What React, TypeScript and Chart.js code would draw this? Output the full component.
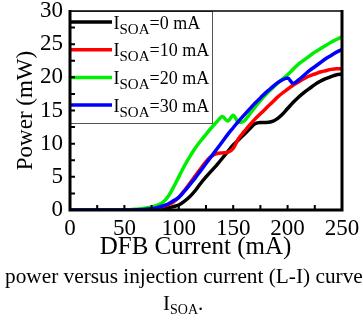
import React, { useEffect, useRef } from "react";
import { Chart, registerables } from "chart.js";

Chart.register(...registerables);

const current = [
  0, 5, 10, 15, 20, 25, 30, 35, 40, 45, 50, 55, 60, 65, 70, 75, 80, 85, 90, 95,
  100, 105, 110, 115, 120, 125, 130, 135, 140, 145, 150, 155, 160, 165, 170, 175,
  180, 185, 190, 195, 200, 205, 210, 215, 220, 225, 230, 235, 240, 245, 250,
];

const soa0 = [
  0, 0, 0, 0, 0, 0, 0, 0, 0, 0, 0, 0, 0, 0, 0,
  0.03, 0.08, 0.15, 0.3, 0.5, 0.75, 1.3, 2.0, 2.9, 4.0, 5.0, 5.9, 6.8, 7.8, 8.8,
  9.8, 10.6, 11.4, 12.2, 13.0, 13.2, 13.2, 13.3, 13.7, 14.4, 15.3, 16.2, 17.0,
  17.7, 18.3, 18.9, 19.4, 19.8, 20.1, 20.4, 20.5,
];

const soa10 = [
  0, 0, 0, 0, 0, 0, 0, 0, 0, 0, 0, 0, 0,
  0.03, 0.08, 0.15, 0.3, 0.5, 0.8, 1.2, 1.9, 2.9, 4.0, 5.1, 6.2, 7.3, 8.1, 8.5,
  8.6, 8.7, 9.3, 10.8, 11.8, 12.8, 13.7, 14.5, 15.3, 16.1, 16.9, 17.6, 18.2,
  18.8, 19.3, 19.8, 20.2, 20.5, 20.8, 21.0, 21.2, 21.3, 21.3,
];

const soa20 = [
  0, 0, 0, 0, 0, 0, 0, 0, 0, 0, 0,
  0.05, 0.1, 0.2, 0.3, 0.45, 0.7, 1.1, 2.0, 3.4, 5.0, 6.6, 8.0, 9.3, 10.4, 11.4,
  12.4, 13.3, 14.1, 13.4, 14.3, 13.2, 13.4, 14.4, 15.5, 16.5, 17.4, 18.2, 19.0,
  19.7, 20.4, 21.2, 22.0, 22.6, 23.2, 23.8, 24.3, 24.8, 25.3, 25.7, 26.1,
];

const soa30 = [
  0, 0, 0, 0, 0, 0, 0, 0, 0, 0, 0, 0,
  0.02, 0.05, 0.1, 0.2, 0.35, 0.6, 0.9, 1.4, 1.9, 2.8, 3.8, 4.8, 5.9, 7.0, 8.1,
  9.2, 10.3, 11.4, 12.4, 13.4, 14.3, 15.2, 16.1, 16.9, 17.7, 18.4, 19.1, 19.6,
  19.9, 19.1, 19.6, 20.3, 21.0, 21.6, 22.2, 22.8, 23.3, 23.8, 24.2,
];

const seriesValues = [soa0, soa10, soa20, soa30];
const seriesColors = ["#000000", "#ff0000", "#00ee00", "#0000ff"];
const legendPrefix = "I";
const legendSub = "SOA";
const legendSuffix = ["=0 mA", "=10 mA", "=20 mA", "=30 mA"];

const xTickLabels = [0, 50, 100, 150, 200, 250];
const yTickLabels = [0, 5, 10, 15, 20, 25, 30];
const xTickMarks = [25, 50, 75, 100, 125, 150, 175, 200, 225];
const yTickMarks = [2.5, 5, 7.5, 10, 12.5, 15, 17.5, 20, 22.5, 25, 27.5];

const xTitle = "DFB Current (mA)";
const yTitle = "Power (mW)";
const captionLine1 = "power versus injection current (L-I) curve";

const SERIF = '"Liberation Serif", "Times New Roman", serif';

const decorPlugin = {
  id: "decor",
  afterDatasetsDraw(chart: any) {
    const { ctx, chartArea: a, scales } = chart;
    const xs = scales.x;
    const ys = scales.y;
    ctx.save();

    // legend box
    const lx = a.left;
    const ly = a.top;
    const lw = 142;
    const lh = 112;
    ctx.fillStyle = "#ffffff";
    ctx.fillRect(lx, ly, lw, lh);
    ctx.strokeStyle = "#555555";
    ctx.lineWidth = 1;
    ctx.strokeRect(lx + 0.5, ly + 0.5, lw, lh);

    for (let i = 0; i < seriesColors.length; i++) {
      const yy = ly + 11 + i * 27.7;
      ctx.strokeStyle = seriesColors[i];
      ctx.lineWidth = 3.5;
      ctx.beginPath();
      ctx.moveTo(lx, yy);
      ctx.lineTo(lx + 42, yy);
      ctx.stroke();
      ctx.fillStyle = "#000000";
      ctx.textBaseline = "alphabetic";
      ctx.textAlign = "left";
      let tx = lx + 43.5;
      ctx.font = `18px ${SERIF}`;
      ctx.fillText(legendPrefix, tx, yy + 6.5);
      tx += ctx.measureText(legendPrefix).width;
      ctx.font = `15px ${SERIF}`;
      ctx.fillText(legendSub, tx, yy + 11.5);
      tx += ctx.measureText(legendSub).width;
      ctx.font = `18px ${SERIF}`;
      ctx.fillText(legendSuffix[i], tx, yy + 6.5);
    }

    // tick marks (inward)
    ctx.strokeStyle = "#000000";
    ctx.lineWidth = 2;
    ctx.beginPath();
    xTickMarks.forEach((v) => {
      const px = xs.getPixelForValue(v);
      ctx.moveTo(px, a.bottom);
      ctx.lineTo(px, a.bottom - 5);
    });
    yTickMarks.forEach((v) => {
      const py = ys.getPixelForValue(v);
      ctx.moveTo(a.left, py);
      ctx.lineTo(a.left + 5, py);
    });
    ctx.stroke();

    // frame
    ctx.lineWidth = 3;
    ctx.beginPath();
    ctx.moveTo(a.left, a.top - 1);
    ctx.lineTo(a.left, a.bottom + 1.5);
    ctx.moveTo(a.left - 1.5, a.bottom);
    ctx.lineTo(a.right + 1.5, a.bottom);
    ctx.moveTo(a.right, a.bottom);
    ctx.lineTo(a.right, a.top - 1);
    ctx.stroke();
    ctx.lineWidth = 1.5;
    ctx.beginPath();
    ctx.moveTo(a.left, a.top);
    ctx.lineTo(a.right, a.top);
    ctx.stroke();

    // x-axis title
    ctx.fillStyle = "#000000";
    ctx.font = `25px ${SERIF}`;
    ctx.textAlign = "center";
    ctx.textBaseline = "alphabetic";
    ctx.fillText(xTitle, a.left + 125.5, a.bottom + 43.5);
    ctx.restore();
  },
};

export default function App() {
  const canvasRef = useRef<HTMLCanvasElement | null>(null);

  useEffect(() => {
    const canvas = canvasRef.current;
    if (!canvas) return;
    const chart = new Chart(canvas, {
      type: "line",
      data: {
        labels: current,
        datasets: seriesValues.map((vals, i) => ({
          label: legendPrefix + legendSub + legendSuffix[i],
          data: vals.map((v, k) => ({ x: current[k], y: v })),
          borderColor: seriesColors[i],
          backgroundColor: seriesColors[i],
          borderWidth: 3.5,
          pointRadius: 0,
          fill: false,
          cubicInterpolationMode: "monotone" as const,
          order: seriesColors.length - i,
        })),
      },
      options: {
        responsive: false,
        animation: false,
        devicePixelRatio: 1,
        layout: { padding: { top: 11, right: 21, left: 0, bottom: 0 } },
        plugins: {
          legend: { display: false },
          tooltip: { enabled: false },
        },
        scales: {
          x: {
            type: "linear",
            min: 0,
            max: 250,
            afterBuildTicks: (s: any) => {
              s.ticks = xTickLabels.map((v) => ({ value: v }));
            },
            afterFit: (s: any) => {
              s.height = 55;
              s.paddingLeft = 0;
              s.paddingRight = 0;
            },
            grid: { display: false, drawTicks: false },
            border: { display: false },
            ticks: {
              color: "#000",
              font: { family: SERIF, size: 23 },
              padding: 5,
              maxRotation: 0,
              autoSkip: false,
            },
            title: { display: false },
          },
          y: {
            type: "linear",
            min: 0,
            max: 30,
            afterBuildTicks: (s: any) => {
              s.ticks = yTickLabels.map((v) => ({ value: v }));
            },
            afterFit: (s: any) => {
              s.width = 70;
              s.paddingTop = 0;
              s.paddingBottom = 0;
            },
            grid: { display: false, drawTicks: false },
            border: { display: false },
            ticks: {
              color: "#000",
              font: { family: SERIF, size: 23 },
              padding: 7,
              autoSkip: false,
            },
            title: {
              display: true,
              text: yTitle,
              color: "#000",
              font: { family: SERIF, size: 23 },
              padding: { top: 12, bottom: 0 },
            },
          },
        },
      },
      plugins: [decorPlugin],
    });
    return () => chart.destroy();
  }, []);

  return (
    <div
      style={{
        position: "fixed",
        left: 0,
        top: 0,
        width: 363,
        height: 320,
        background: "#ffffff",
        overflow: "hidden",
      }}
    >
      <canvas
        ref={canvasRef}
        width={363}
        height={265}
        style={{ position: "absolute", left: 0, top: 0, width: 363, height: 265 }}
      />
      <div
        style={{
          position: "absolute",
          left: 5,
          top: 266,
          whiteSpace: "nowrap",
          fontFamily: SERIF,
          fontSize: 21.3,
          lineHeight: "21px",
          color: "#000",
        }}
      >
        {captionLine1}
      </div>
      <div
        style={{
          position: "absolute",
          left: 163,
          top: 293,
          whiteSpace: "nowrap",
          fontFamily: SERIF,
          fontSize: 21,
          lineHeight: "21px",
          color: "#000",
        }}
      >
        {legendPrefix}
        <span style={{ fontSize: 14, position: "relative", top: 4 }}>{legendSub}</span>.
      </div>
    </div>
  );
}
